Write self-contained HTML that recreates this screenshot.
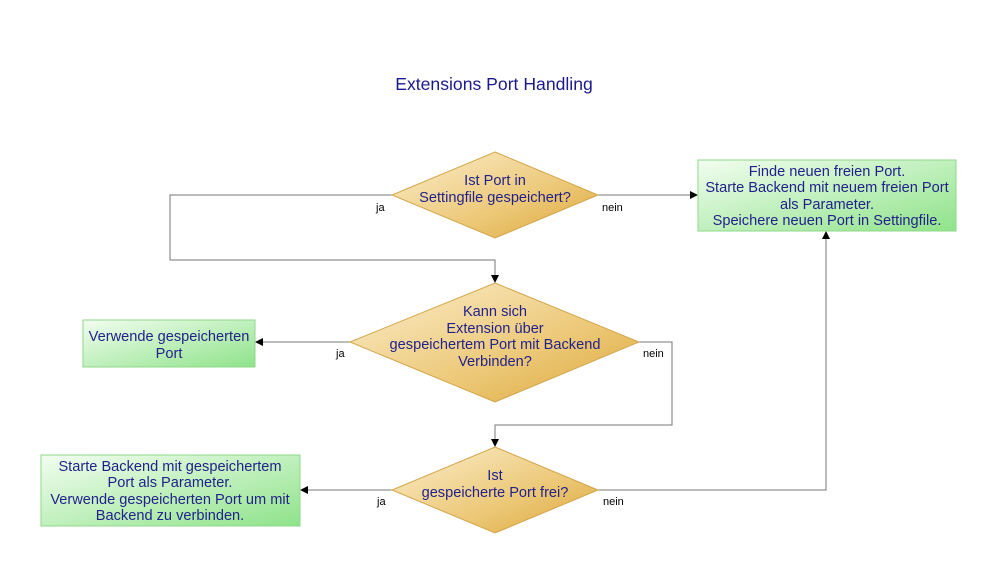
<!DOCTYPE html>
<html><head><meta charset="utf-8"><style>
html,body{margin:0;padding:0;background:#fff;}
svg{display:block;font-family:"Liberation Sans",sans-serif;}
</style></head><body>
<svg width="988" height="564" viewBox="0 0 988 564" xmlns="http://www.w3.org/2000/svg">
<defs>
<linearGradient id="gd" x1="0" y1="0" x2="1" y2="1">
<stop offset="0" stop-color="#fbeecd"/><stop offset="0.6" stop-color="#ecc877"/><stop offset="1" stop-color="#dda63c"/>
</linearGradient>
<linearGradient id="gg" x1="0" y1="0" x2="1" y2="1">
<stop offset="0" stop-color="#f2fdf0"/><stop offset="1" stop-color="#8fe38a"/>
</linearGradient>
<marker id="ar" markerWidth="8" markerHeight="8" refX="7" refY="4" orient="auto" markerUnits="userSpaceOnUse">
<path d="M0,0 L8,4 L0,8 z" fill="#000"/>
</marker>
</defs>
<text x="494" y="90" text-anchor="middle" font-size="17.6" fill="#1a1a8c">Extensions Port Handling</text>

<g fill="none" stroke="#777" stroke-width="1">
<polyline points="392,195 170,195 170,260 495,260 495,282" marker-end="url(#ar)"/>
<polyline points="598,195 697,195" marker-end="url(#ar)"/>
<polyline points="350,342 256,342" marker-end="url(#ar)"/>
<polyline points="639,342 672,342 672,425 495,425 495,446" marker-end="url(#ar)"/>
<polyline points="392,490 301,490" marker-end="url(#ar)"/>
<polyline points="598,490 826,490 826,232" marker-end="url(#ar)"/>
</g>

<g stroke="#d4a64a" stroke-width="1" fill="url(#gd)">
<polygon points="495,152 598,195 495,238 392,195"/>
<polygon points="495,283 639,342 495,402 350,342"/>
<polygon points="495,447 598,490 495,533 392,490"/>
</g>
<g stroke="#8fd88a" stroke-width="1" fill="url(#gg)">
<rect x="698" y="160" width="258" height="71"/>
<rect x="83" y="320" width="172" height="47"/>
<rect x="41" y="455" width="259" height="71"/>
</g>

<g font-size="14.6" fill="#22228a" text-anchor="middle">
<text x="495" y="185">Ist Port in</text>
<text x="495" y="202">Settingfile gespeichert?</text>
<text x="495" y="316">Kann sich</text>
<text x="495" y="333">Extension über</text>
<text x="495" y="349">gespeichertem Port mit Backend</text>
<text x="495" y="366">Verbinden?</text>
<text x="495" y="480">Ist</text>
<text x="495" y="497">gespeicherte Port frei?</text>
<text x="827" y="176">Finde neuen freien Port.</text>
<text x="827" y="192">Starte Backend mit neuem freien Port</text>
<text x="827" y="209">als Parameter.</text>
<text x="827" y="225">Speichere neuen Port in Settingfile.</text>
<text x="169" y="341">Verwende gespeicherten</text>
<text x="169" y="358">Port</text>
<text x="170" y="471">Starte Backend mit gespeichertem</text>
<text x="170" y="487">Port als Parameter.</text>
<text x="170" y="504">Verwende gespeicherten Port um mit</text>
<text x="170" y="520">Backend zu verbinden.</text>
</g>
<g font-size="11" fill="#000">
<text x="376" y="211">ja</text>
<text x="602" y="211">nein</text>
<text x="336" y="357">ja</text>
<text x="643" y="357">nein</text>
<text x="377" y="505">ja</text>
<text x="603" y="505">nein</text>
</g>
</svg>
</body></html>
